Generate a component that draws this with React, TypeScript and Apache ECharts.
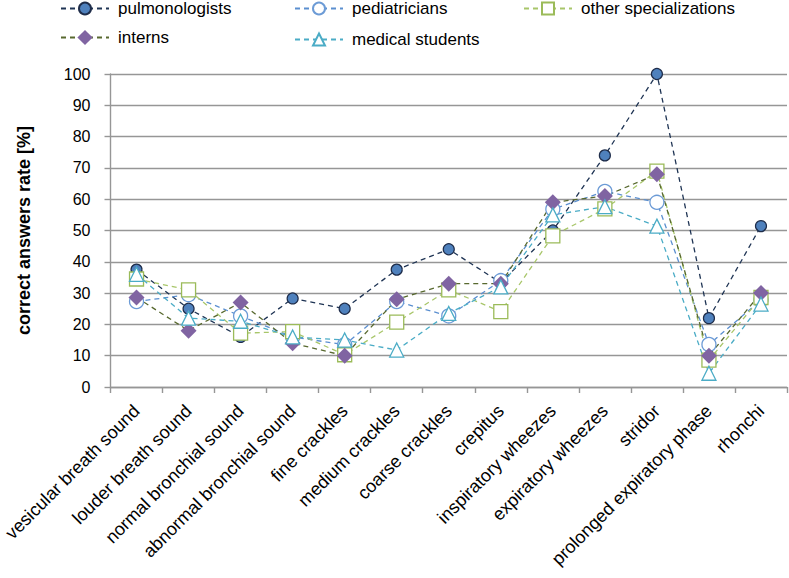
import React, { useEffect, useRef } from "react";
import * as echarts from "echarts";

const categories = [
  "vesicular breath sound",
  "louder breath sound",
  "normal bronchial sound",
  "abnormal bronchial sound",
  "fine crackles",
  "medium crackles",
  "coarse crackles",
  "crepitus",
  "inspiratory wheezes",
  "expiratory wheezes",
  "stridor",
  "prolonged expiratory phase",
  "rhonchi",
];

const pulmonologists = [37.5, 25, 16, 28.3, 25, 37.5, 44, 33.3, 50, 74, 100, 22, 51.4];
const pediatricians = [27.3, 29.5, 22.7, 16, 13.5, 27.3, 22.7, 34, 56.8, 62.5, 59, 13.6, 27.8];
const otherSpecializations = [34.5, 31, 17.2, 17.7, 10.3, 20.7, 31, 24.1, 48.3, 56.9, 69, 8.6, 28.6];
const interns = [28.6, 18, 27, 14, 10, 28, 33, 33, 59, 61, 68, 10, 30];
const medicalStudents = [36, 22, 21, 16, 15, 11.8, 23.5, 32, 55, 57.6, 51.4, 4.4, 26.5];

const yTicks = { min: 0, max: 100, interval: 10 };

const FONT = "'Liberation Sans', Arial, sans-serif";

export default function App() {
  const ref = useRef<HTMLDivElement>(null);

  useEffect(() => {
    if (!ref.current) return;
    const chart = echarts.init(ref.current, undefined, { renderer: "svg" });

    const dash = [5, 4];
    const mkSeries = (
      name: string,
      data: number[],
      lineColor: string,
      symbol: string,
      symbolSize: number,
      fill: string,
      border: string,
      borderWidth: number
    ) => ({
      name,
      type: "line",
      data,
      symbol,
      symbolSize,
      showAllSymbol: true,
      lineStyle: { color: lineColor, width: 1.3, type: dash },
      itemStyle: { color: fill, borderColor: border, borderWidth },
      emphasis: { disabled: true },
    });

    const legendBase = {
      itemWidth: 48,
      itemHeight: 15,
      textStyle: { fontSize: 17, fontFamily: FONT, color: "#000", padding: [0, 0, 0, 4] },
      selectedMode: false,
    };

    chart.setOption({
      animation: false,
      backgroundColor: "#fff",
      grid: { left: 110, right: 2, top: 74, bottom: 191, containLabel: false },
      legend: [
        { ...legendBase, data: ["pulmonologists"], left: 55, top: -5 },
        { ...legendBase, data: ["pediatricians"], left: 289, top: -5 },
        { ...legendBase, data: ["other specializations"], left: 518, top: -5 },
        { ...legendBase, itemHeight: 19, data: ["interns"], left: 55, top: 24 },
        { ...legendBase, data: ["medical students"], left: 289, top: 26 },
      ],
      xAxis: {
        type: "category",
        data: categories,
        boundaryGap: true,
        axisLine: { lineStyle: { color: "#969696", width: 1.4 } },
        axisTick: { show: true, length: 6, lineStyle: { color: "#969696", width: 1.4 } },
        axisLabel: {
          rotate: 45,
          interval: 0,
          margin: 21,
          fontSize: 18,
          fontFamily: FONT,
          color: "#000",
        },
        splitLine: { show: false },
      },
      yAxis: {
        type: "value",
        min: yTicks.min,
        max: yTicks.max,
        interval: yTicks.interval,
        name: "correct answers rate [%]",
        nameLocation: "middle",
        nameGap: 78,
        nameTextStyle: { fontSize: 18, fontWeight: "bold", fontFamily: FONT, color: "#000" },
        axisLine: { show: true, lineStyle: { color: "#969696", width: 1.4 } },
        axisTick: { show: true, length: 6, lineStyle: { color: "#969696", width: 1.4 } },
        axisLabel: { fontSize: 16, fontFamily: FONT, color: "#000", margin: 20 },
        splitLine: { show: true, lineStyle: { color: "#969696", width: 1.4 } },
      },
      series: [
        mkSeries("pulmonologists", pulmonologists, "#1f3454", "circle", 11, "#4f81bd", "#1f2d4a", 1.2),
        mkSeries("pediatricians", pediatricians, "#5b8fd0", "circle", 14, "#ffffff", "#6c9bd6", 1.3),
        mkSeries("other specializations", otherSpecializations, "#a8c66a", "rect", 14, "#ffffff", "#9bbb59", 1.3),
        mkSeries("interns", interns, "#58692f", "diamond", 16, "#8064a2", "#8064a2", 0),
        mkSeries("medical students", medicalStudents, "#4bacc6", "triangle", 14, "#ffffff", "#4bacc6", 1.3),
      ],
    });

    return () => chart.dispose();
  }, []);

  return <div ref={ref} style={{ width: 789, height: 578, position: "absolute", left: 0, top: 0 }} />;
}
